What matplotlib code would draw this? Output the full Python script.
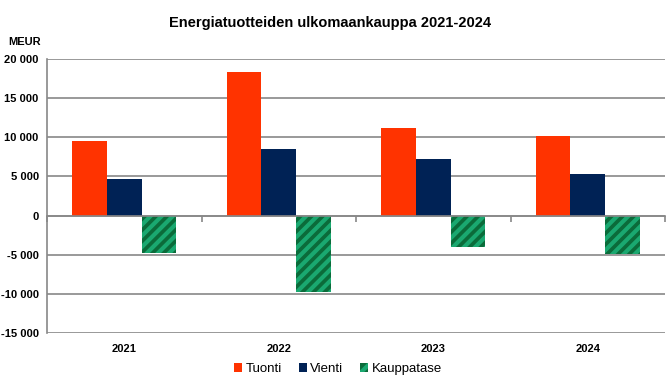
import matplotlib
matplotlib.use("Agg")
import matplotlib.pyplot as plt
import numpy as np
from matplotlib.patches import Patch
from matplotlib.transforms import blended_transform_factory

plt.rcParams['font.family'] = ['Liberation Sans', 'DejaVu Sans']
plt.rcParams['hatch.linewidth'] = 3.0
plt.rcParams['hatch.color'] = '#1aa870'

years = ['2021', '2022', '2023', '2024']
tuonti = [9500, 18300, 11200, 10200]
vienti = [4700, 8500, 7200, 5300]
kauppatase = [-4800, -9800, -4000, -4900]
series_names = ['Tuonti', 'Vienti', 'Kauppatase']
yticks = [-15000, -10000, -5000, 0, 5000, 10000, 15000, 20000]

fig = plt.figure(figsize=(6.72, 3.86), dpi=100)
ax = fig.add_axes([47/672, 1-333/386, (665-47)/672, (333-59)/386])

x = np.arange(len(years))
w = 0.224
ax.bar(x - w, tuonti, w, color='#ff3300', label=series_names[0], zorder=3)
ax.bar(x, vienti, w, color='#002255', label=series_names[1], zorder=3)
ax.bar(x + w, kauppatase, w, color='#0b6b3a', hatch='///', edgecolor='#1aa870',
       linewidth=0, label=series_names[2], zorder=3)

ax.set_xlim(-0.5, len(years) - 0.5)
ax.set_ylim(-15000, 20000)
ax.set_yticks(yticks)
ax.set_yticklabels([f"{v:,}".replace(',', ' ') for v in yticks], fontsize=8, fontweight='bold')
ax.yaxis.grid(True, color='#888888', linewidth=1.2, zorder=0)
ax.tick_params(axis='y', length=0, pad=6)

for s in ['top', 'right']:
    ax.spines[s].set_visible(False)
ax.spines['left'].set_color('#888888')
ax.spines['left'].set_linewidth(1.2)
ax.spines['bottom'].set_position(('data', 0))
ax.spines['bottom'].set_color('#888888')
ax.spines['bottom'].set_linewidth(1.2)
ax.spines['bottom'].set_zorder(4)

ax.set_xticks([])
ax.set_xticks(np.arange(len(years) + 1) - 0.5, minor=True)
ax.tick_params(axis='x', which='minor', length=4, width=1.2, color='#888888', direction='out')

trans = blended_transform_factory(ax.transData, ax.transAxes)
for xi, yr in zip(x, years):
    ax.text(xi, -0.058, yr, transform=trans, ha='center', va='center',
            fontsize=8, fontweight='bold')

fig.text(330/672, 1-23/386, 'Energiatuotteiden ulkomaankauppa 2021-2024',
         ha='center', va='center', fontsize=10.5, fontweight='bold')
fig.text(25/672, 1-42/386, 'MEUR', ha='center', va='center', fontsize=8, fontweight='bold')

handles = [Patch(facecolor='#ff3300'), Patch(facecolor='#002255'),
           Patch(facecolor='#0b6b3a', hatch='//', edgecolor='#1aa870', linewidth=0)]
fig.legend(handles, series_names, loc='center', bbox_to_anchor=(338/672, 1-369/386),
           ncol=3, frameon=False, fontsize=9.5, handlelength=0.6, handleheight=0.6,
           handletextpad=0.25, columnspacing=1.3)

fig.savefig('out.png', dpi=100)
